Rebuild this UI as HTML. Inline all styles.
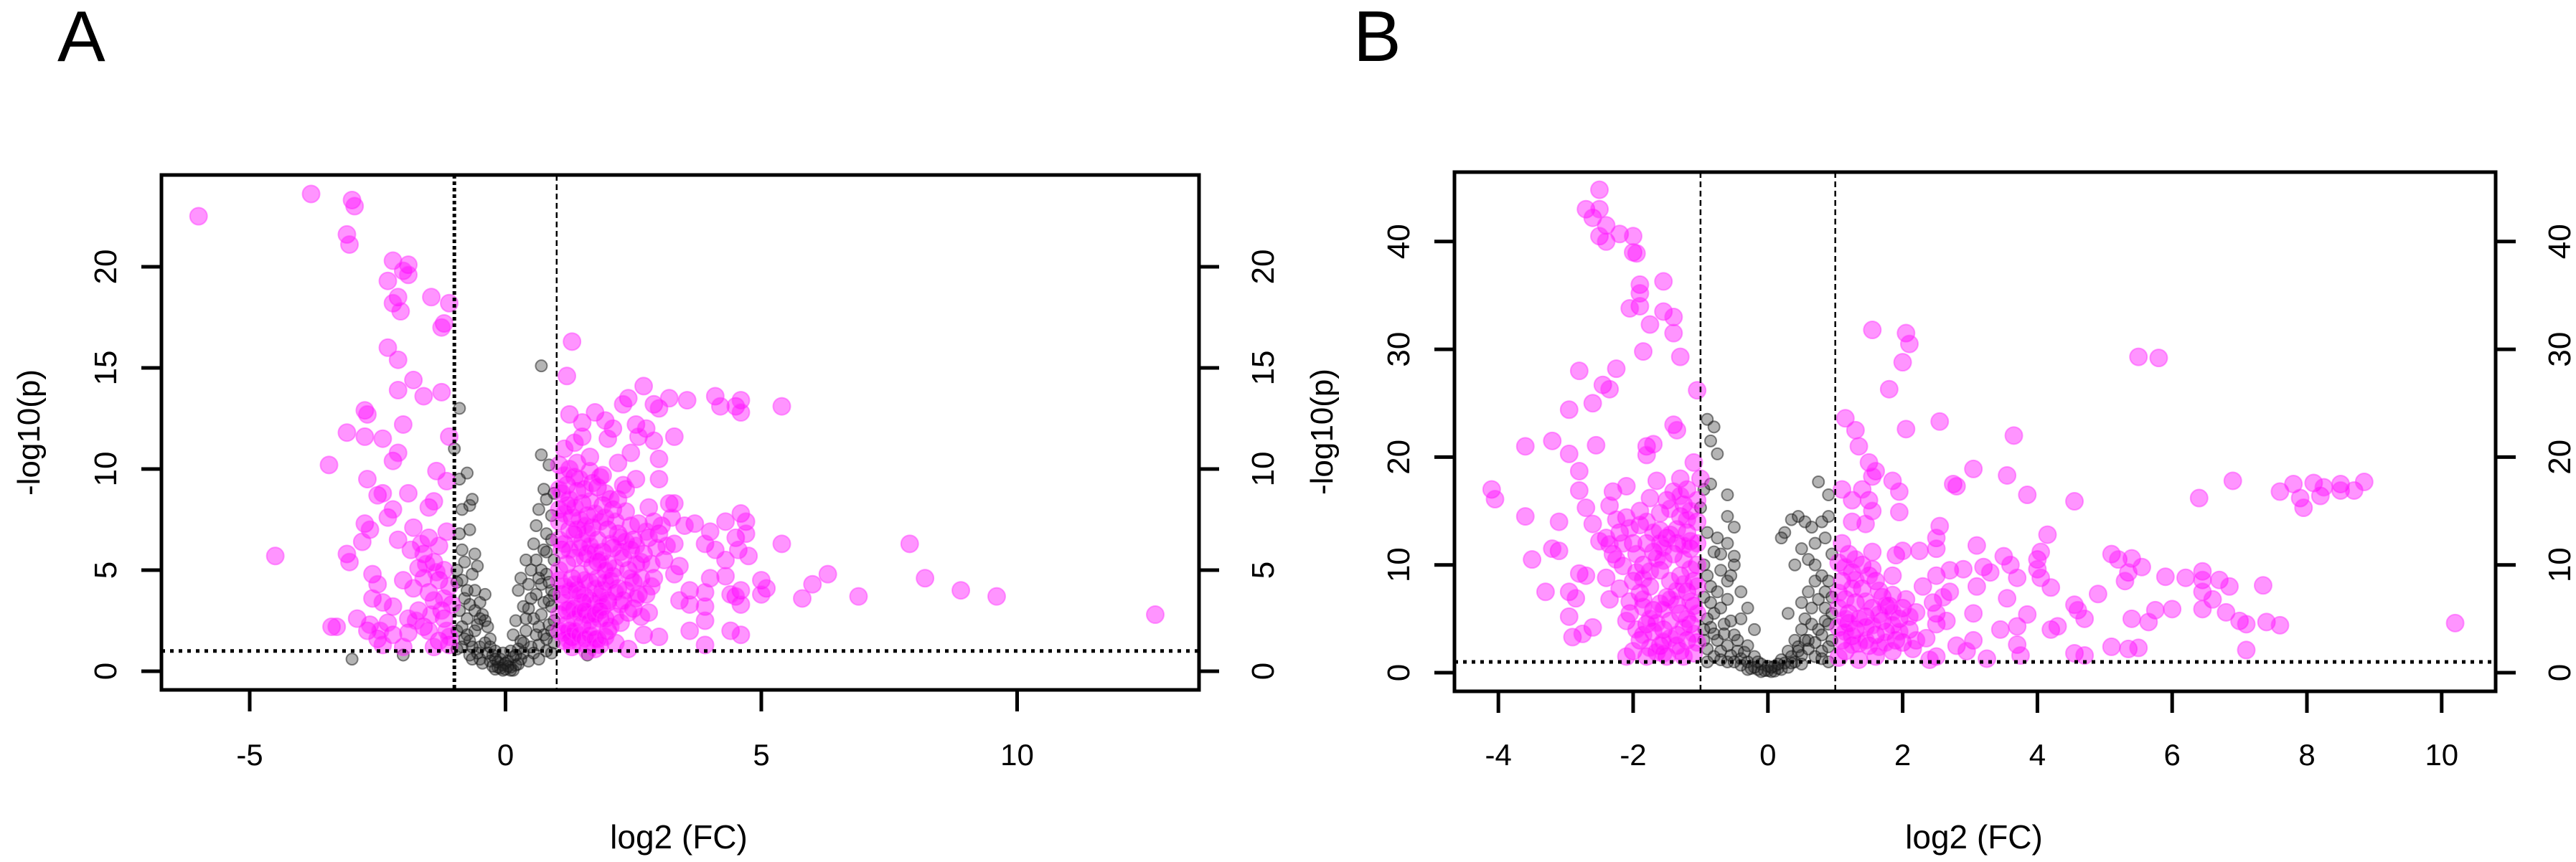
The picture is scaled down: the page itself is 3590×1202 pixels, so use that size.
<!DOCTYPE html>
<html><head><meta charset="utf-8"><style>
html,body{margin:0;padding:0;background:#fff;}
svg{display:block;font-family:"Liberation Sans",sans-serif;}
</style></head><body>
<svg id="fig" width="3590" height="1202" viewBox="0 0 3590 1202">
<text x="80" y="85" font-size="100">A</text>
<text x="1886" y="85" font-size="100">B</text>
<g id="panelA"></g>
<g id="panelB"></g>
</svg>
<script>
// ---------- Panel A data ----------
const aXTicks = [-5, 0, 5, 10];
const aYTicks = [0, 5, 10, 15, 20];
const aSig = [[-6.0,22.5],[-3.8,23.6],[-3.0,23.3],[-2.95,23.0],[-3.1,21.6],[-3.05,21.1],[-2.2,20.3],[-1.9,20.1],[-2.0,19.8],[-1.9,19.6],[-2.3,19.3],[-2.1,18.5],[-2.2,18.2],[-2.05,17.8],[-1.45,18.5],[-1.1,18.2],[-1.2,17.2],[-1.25,17.0],[-2.3,16.0],[-2.1,15.4],[-1.8,14.4],[-2.1,13.9],[-1.6,13.6],[-1.25,13.8],[-2.75,12.9],[-2.7,12.7],[-3.1,11.8],[-2.75,11.6],[-2.4,11.5],[-2.0,12.2],[-1.1,11.6],[-3.45,10.2],[-2.2,10.4],[-2.1,10.8],[-1.35,9.9],[-1.15,9.4],[-2.7,9.5],[-2.5,8.7],[-2.4,8.8],[-1.9,8.8],[-1.5,8.1],[-1.4,8.4],[-2.75,7.3],[-2.65,7.0],[-2.3,7.6],[-2.2,8.0],[-1.8,7.1],[-1.15,6.9],[-4.5,5.7],[-3.1,5.8],[-3.05,5.4],[-2.8,6.4],[-2.1,6.5],[-1.85,6.0],[-1.6,5.8],[-1.4,5.4],[-2.6,4.8],[-2.5,4.3],[-2.0,4.5],[-1.8,4.1],[-1.5,3.9],[-1.3,4.5],[-2.6,3.6],[-2.4,3.4],[-2.2,3.2],[-1.7,3.0],[-1.4,3.5],[-1.2,2.6],[-3.4,2.2],[-3.3,2.2],[-2.9,2.6],[-2.7,2.0],[-2.5,1.6],[-2.2,1.8],[-1.9,1.9],[-1.6,2.2],[-1.3,1.5],[-1.1,1.3],[-2.0,1.2],[-2.4,1.3],[-1.15,2.0],[-1.5,6.6],[-1.7,5.1],[-1.25,3.0],[-1.2,5.0],[-1.1,4.2],[-1.3,6.2],[-1.6,4.6],[-1.9,2.6],[-2.3,2.4],[-1.05,3.3],[-1.45,2.8],[-1.55,5.3],[-1.35,4.9],[-1.65,6.3],[-1.2,3.6],[-1.5,2.0],[-1.75,2.5],[-1.1,1.7],[-1.4,1.2],[-2.65,2.3],[-2.45,2.0],
[1.3,16.3],[1.2,14.6],[2.7,14.1],[2.4,13.5],[2.3,13.2],[2.9,13.2],[3.0,13.0],[3.2,13.5],[3.55,13.4],[4.1,13.6],[4.2,13.1],[4.5,13.1],[4.6,13.4],[4.6,12.8],[5.4,13.1],[1.25,12.7],[1.5,12.3],[1.75,12.8],[1.95,12.4],[2.1,12.0],[2.55,12.2],[2.75,12.0],[1.5,11.6],[1.35,11.3],[2.0,11.5],[2.6,11.6],[3.3,11.6],[2.9,11.4],[1.65,10.6],[1.4,10.3],[2.2,10.3],[2.45,10.8],[3.0,10.5],[1.9,9.7],[2.55,9.5],[3.0,9.5],[1.2,9.2],[1.8,9.1],[2.35,9.0],[2.2,8.5],[3.2,8.3],[3.3,8.3],[2.8,8.1],[4.6,7.8],[4.7,7.4],[3.7,7.3],[3.5,7.2],[4.3,7.4],[2.0,7.0],[2.6,7.3],[2.5,6.5],[4.0,6.9],[4.5,6.6],[4.7,6.8],[5.4,6.3],[3.0,6.8],[3.3,6.3],[3.9,6.3],[4.1,6.0],[4.55,6.0],[4.75,5.7],[3.1,5.5],[3.4,5.2],[4.3,5.5],[1.8,5.4],[7.9,6.3],[8.2,4.6],[6.3,4.8],[6.0,4.3],[5.0,4.5],[5.1,4.1],[4.0,4.6],[4.3,4.7],[3.3,4.8],[2.9,4.6],[3.6,4.0],[4.6,4.0],[4.5,3.7],[3.9,3.9],[5.0,3.8],[5.8,3.6],[6.9,3.7],[8.9,4.0],[9.6,3.7],[12.7,2.8],[3.4,3.5],[3.6,3.3],[3.9,3.2],[4.6,3.3],[4.4,3.8],[2.0,3.5],[2.5,3.1],[2.8,2.9],[3.9,2.5],[4.4,2.0],[3.6,2.0],[4.6,1.8],[2.7,1.8],[3.0,1.7],[2.4,1.1],[3.9,1.3],[2.0,2.0],[1.5,2.3],[1.3,1.7],[1.6,1.0],[1.2,3.0],
[1.1,8.8],[1.2,8.2],[1.3,7.6],[1.4,7.0],[1.5,6.4],[1.6,5.8],[1.7,5.2],[1.8,4.6],[1.9,4.0],[2.0,3.4],[1.1,6.0],[1.2,5.3],[1.3,4.6],[1.4,4.0],[1.5,3.4],[1.6,2.8],[1.7,2.2],[1.8,1.6],[1.1,3.8],[1.2,2.3],[1.3,1.2],[1.4,8.9],[1.5,8.3],[1.6,7.7],[1.7,7.1],[1.8,6.5],[1.9,5.9],[2.0,5.3],[2.1,4.7],[2.2,4.1],[2.3,3.5],[2.4,2.9],[2.1,6.1],[2.2,6.8],[2.3,5.6],[2.4,5.0],[2.5,4.4],[2.6,3.8],[2.7,5.8],[2.8,6.6],[2.9,7.4],[2.1,8.0],[1.9,8.2],[1.7,9.3],[1.55,9.0],[1.35,9.6],[1.05,10.2],[1.15,11.0],[1.25,7.0],[1.35,5.6],[1.45,4.8],[1.55,3.7],[1.65,4.4],[1.75,3.3],[1.85,2.6],[1.95,7.6],[2.05,6.3],[2.15,5.1],[2.25,2.4],[2.35,7.9],[2.45,6.0],[2.55,5.3],[2.65,4.6],[2.75,3.8],[2.85,5.3],[2.95,6.1],[3.05,7.2],[1.15,1.5],[1.25,2.0],[1.45,1.4],[1.75,1.1],[2.15,1.4],[1.05,5.0],[1.05,7.4],[1.35,3.1],[1.6,6.8],[1.9,3.2],[2.3,9.2],
[1.05,8.0],[1.15,7.8],[1.25,8.5],[1.35,8.1],[1.45,7.5],[1.55,7.2],[1.65,8.4],[1.75,7.8],[1.85,7.4],[1.05,6.5],[1.15,6.3],[1.25,6.0],[1.35,6.8],[1.45,6.1],[1.55,5.6],[1.65,6.2],[1.75,5.9],[1.85,5.5],[1.95,5.0],[1.05,4.5],[1.15,4.2],[1.25,4.0],[1.35,4.3],[1.45,3.8],[1.55,4.5],[1.65,3.5],[1.75,4.1],[1.85,3.7],[1.95,4.4],[1.05,2.8],[1.15,3.4],[1.25,3.1],[1.35,2.6],[1.45,2.9],[1.55,3.0],[1.65,2.5],[1.75,2.8],[1.85,3.0],[1.95,2.6],[1.05,2.0],[1.15,1.9],[1.25,1.5],[1.35,2.0],[1.45,1.8],[1.55,1.6],[1.65,1.8],[1.75,1.6],[1.85,1.3],[1.95,1.7],[2.05,2.2],[2.15,2.7],[2.25,3.3],[2.35,4.0],[2.45,4.6],[2.55,3.6],[2.65,2.7],[2.05,4.5],[2.15,3.9],[2.25,5.9],[2.35,6.4],[2.45,7.2],[2.55,6.2],[2.65,5.4],[2.05,8.5],[2.15,7.4],[2.25,6.6],[1.95,8.8],[1.85,9.6],[1.65,9.9],[1.45,9.5],[1.25,10.0],[1.15,9.7],[1.05,9.0],[2.75,6.9],[2.85,4.2],[3.15,6.2],[3.25,7.6]];
const aNs = [[-0.9,9.5],[-0.75,9.8],[-0.7,8.2],[-0.65,8.5],[-0.7,7.0],[-0.9,13.0],[-1.0,11.0],[0.7,15.1],[0.7,10.7],[0.85,10.2],[0.75,9.0],[0.8,8.5],[0.9,7.7],[0.6,7.2],[0.55,6.3],[0.4,5.5],[0.5,5.0],[0.3,4.6],[0.25,4.0],[0.35,3.2],[0.2,2.5],[0.15,1.8],[0.1,1.0],[0.05,0.5],[0,0.1],[-0.05,0.3],[-0.1,0.6],[-0.2,1.0],[-0.3,1.6],[-0.35,2.2],[-0.45,2.8],[-0.5,3.4],[-0.6,4.0],[-0.65,4.8],[-0.8,5.4],[-0.85,6.0],[-0.55,5.2],[-0.4,3.8],[-0.9,3.0],[-0.95,2.0],[-0.85,1.2],[-0.7,0.8],[0.8,1.0],[0.9,0.9],[0.95,2.5],[0.85,3.5],[0.7,4.3],[0.95,5.5],[0.75,6.0],[0.65,2.2],[0.5,1.2],[0.3,0.6],[-0.3,0.5],[-0.5,1.2],[-3.0,0.6],[-2.0,0.8],[1.6,0.8],[0.6,5.5],[0.45,4.3],[0.9,6.5],[0.8,4.8],[0.6,3.8],[0.9,4.0],[0.7,2.8],[0.4,2.0],[0.2,0.3],[-0.15,0.2],[0.1,0.2],[-0.25,0.8],[-0.4,1.4],[-0.6,2.0],[-0.75,2.6],[-0.8,3.6],[-0.95,4.4],[-0.6,3.0],[-0.7,1.5],[-0.5,0.6],[0.35,1.4],[0.55,2.6],[0.95,8.8],[-0.85,8.0],[0.65,8.0],[0.8,5.9],[-0.2,0.1],[0.15,0.05],[0.25,1.1],[-0.05,0.9],
[-0.1,0.15],[0.05,0.25],[-0.15,0.45],[0.15,0.7],[-0.25,0.25],[0.25,0.35],[-0.35,0.9],[0.35,0.9],[-0.45,0.4],[0.45,0.5],[-0.55,0.9],[0.55,0.9],[-0.65,1.2],[0.65,1.3],[-0.75,1.8],[0.75,1.8],[-0.85,2.2],[0.85,2.3],[-0.95,1.1],[0.95,1.4],[-0.4,2.5],[0.45,3.1],[-0.55,2.3],[0.6,1.8],[-0.7,3.3],[0.75,3.4],[-0.85,4.5],[0.85,4.4],[-0.9,6.8],[0.9,3.2],[-0.3,1.2],[0.3,1.5],[-0.2,0.6],[0.2,0.8],[0,0.4],[0.1,0.05],[-0.05,0.05],[0.5,3.6],[0.4,2.6],[0.7,5.0],[0.8,6.8],[0.65,4.6],[-0.75,4.0],[-0.6,5.8],[-0.95,5.0],[-0.5,2.6],[0.9,2.0],[0.95,3.8],[-0.8,1.6],[0.8,1.6],[-0.65,0.6],[0.65,0.6]];

// ---------- Panel B data ----------
const bXTicks = [-4, -2, 0, 2, 4, 6, 8, 10];
const bYTicks = [0, 10, 20, 30, 40];
const bSig = [[-2.5,44.8],[-2.7,43.0],[-2.6,42.2],[-2.5,43.0],[-2.4,41.5],[-2.5,40.5],[-2.4,40.0],[-2.2,40.7],[-2.0,40.5],[-2.0,39.0],[-1.95,38.9],[-1.9,36.0],[-1.9,35.2],[-1.55,36.3],[-1.9,34.0],[-2.05,33.8],[-1.55,33.5],[-1.4,33.0],[-1.75,32.3],[-1.4,31.5],[-1.85,29.8],[-1.3,29.3],[-2.8,28.0],[-2.25,28.2],[-2.45,26.7],[-2.35,26.3],[-2.6,25.0],[-2.95,24.4],[-1.05,26.2],[-1.4,23.0],[-1.35,22.5],[-3.2,21.5],[-3.6,21.0],[-2.55,21.1],[-1.8,21.0],[-1.7,21.2],[-1.8,20.2],[-2.95,20.3],[-1.1,19.5],[-4.1,17.0],[-4.05,16.1],[-2.8,18.7],[-2.8,16.9],[-2.3,16.8],[-2.1,17.3],[-1.65,17.8],[-1.3,18.0],[-1.2,17.0],[-2.7,15.3],[-2.35,15.5],[-1.9,15.0],[-1.6,14.8],[-1.3,14.5],[-3.6,14.5],[-3.1,14.0],[-2.6,13.8],[-2.2,13.0],[-2.4,12.5],[-2.0,12.0],[-1.8,12.0],[-1.5,12.5],[-1.2,13.0],[-3.1,11.3],[-3.2,11.5],[-2.3,11.0],[-1.7,11.2],[-1.4,11.0],[-3.5,10.5],[-2.8,9.2],[-2.4,8.8],[-2.0,8.5],[-1.6,9.5],[-1.3,9.0],[-2.7,9.0],[-3.3,7.5],[-2.95,7.5],[-2.85,6.9],[-2.2,7.8],[-1.9,7.4],[-1.5,7.0],[-1.2,7.5],[-2.35,6.8],[-2.05,5.5],[-1.7,5.8],[-1.3,5.5],[-2.95,5.2],[-2.6,4.2],[-2.1,4.8],[-1.8,4.5],[-1.55,4.0],[-2.9,3.3],[-2.75,3.6],[-1.9,3.0],[-1.6,2.5],[-1.2,3.0],[-2.0,2.0],[-1.8,1.5],[-1.5,1.5],[-2.1,1.5],[-1.3,2.0],[-1.1,1.8],[-1.15,4.5],[-1.1,6.2],[-1.05,10.0],[-1.05,14.0],[-1.5,16.0],[-1.0,18.0],[-1.4,16.8],[-1.75,16.2],[-1.25,15.6],[-1.6,13.2],[-1.9,13.7],[-2.1,14.4],[-1.35,12.0],[-1.15,11.5],[-1.55,10.4],[-1.85,10.0],[-1.25,10.5],[-1.45,8.5],[-1.75,8.0],[-1.1,8.5],[-1.6,6.4],[-1.35,6.3],[-1.85,6.1],[-1.2,5.0],[-1.45,4.8],[-1.7,3.8],[-1.35,3.5],[-1.05,2.8],[-1.6,12.0],[-1.8,14.0],
[-1.15,12.2],[-1.25,11.8],[-1.35,13.3],[-1.45,12.8],[-1.55,11.6],[-1.65,10.6],[-1.75,9.4],[-1.85,8.7],[-1.95,11.0],[-1.15,9.6],[-1.25,8.2],[-1.35,7.6],[-1.45,6.8],[-1.55,5.9],[-1.65,4.6],[-1.75,5.0],[-1.85,6.8],[-1.95,9.3],[-1.15,6.6],[-1.25,4.2],[-1.35,2.5],[-1.45,3.2],[-1.55,2.9],[-1.65,1.9],[-1.75,2.3],[-1.85,3.5],[-1.95,4.0],[-2.05,6.6],[-2.15,9.9],[-2.25,10.5],[-2.05,13.4],[-2.25,14.2],[-1.05,16.0],[-1.15,15.0],[-1.3,16.4],[-1.45,15.2],[-1.2,14.2],[-1.05,12.0],[-1.05,8.0],[-1.05,5.5],[-1.1,3.6],[-1.25,1.5],[-1.55,1.8],[-1.7,13.0],[-2.15,12.0],[-2.35,11.9],[-2.5,12.2],
[1.55,31.8],[2.05,31.5],[2.1,30.5],[2.0,28.8],[5.5,29.3],[5.8,29.2],[1.8,26.3],[1.15,23.6],[1.3,22.5],[2.05,22.6],[2.55,23.3],[3.65,22.0],[1.35,21.0],[1.5,19.5],[1.6,18.7],[1.55,18.2],[1.85,17.8],[3.05,18.9],[3.55,18.3],[2.75,17.5],[2.8,17.3],[6.9,17.8],[7.6,16.8],[7.8,17.5],[7.9,16.2],[7.95,15.3],[8.1,17.6],[8.2,16.4],[8.25,17.2],[8.5,17.5],[8.5,16.9],[8.7,16.9],[8.85,17.7],[6.4,16.2],[3.85,16.5],[4.55,15.9],[1.1,17.0],[1.25,16.0],[1.5,16.0],[1.55,15.0],[1.4,17.0],[1.95,16.8],[1.95,14.9],[1.25,14.0],[1.45,13.8],[2.55,13.6],[2.5,12.5],[4.15,12.8],[2.5,11.5],[3.1,11.8],[1.1,12.0],[1.2,11.0],[1.55,11.2],[1.9,10.9],[2.0,11.3],[2.25,11.3],[3.5,10.8],[3.6,10.0],[4.0,10.5],[4.05,11.2],[5.1,11.0],[5.2,10.5],[5.4,10.6],[5.55,9.8],[5.35,9.3],[5.3,8.5],[1.4,10.0],[2.5,9.0],[2.7,9.5],[2.9,9.6],[3.2,9.8],[3.3,9.3],[3.7,8.8],[4.0,9.6],[4.05,8.8],[4.2,7.9],[3.1,8.0],[2.7,7.5],[2.3,8.0],[1.6,8.5],[1.85,9.0],[5.9,8.9],[6.2,8.8],[6.45,9.4],[6.45,8.6],[6.7,8.6],[6.85,8.0],[7.35,8.1],[6.45,7.5],[6.6,6.8],[4.9,7.3],[2.45,6.5],[2.6,7.0],[3.55,6.9],[1.8,6.2],[2.0,6.0],[2.2,5.6],[2.5,5.5],[3.05,5.5],[4.55,6.3],[4.6,5.8],[5.75,5.8],[6.0,5.9],[6.45,5.9],[6.8,5.6],[7.0,4.8],[7.1,4.5],[7.4,4.7],[7.6,4.4],[10.2,4.6],[5.4,5.0],[5.65,4.7],[4.7,5.0],[2.5,4.5],[2.65,4.8],[3.45,4.0],[3.7,4.3],[4.2,4.0],[4.3,4.3],[3.85,5.4],[2.35,3.2],[1.9,3.0],[2.0,2.8],[2.8,2.5],[3.05,3.0],[3.7,2.6],[2.95,2.0],[5.1,2.4],[5.35,2.2],[5.5,2.3],[7.1,2.1],[2.5,1.5],[2.4,1.2],[3.25,1.3],[4.55,1.8],[4.7,1.6],[3.75,1.6],[1.2,5.5],[1.3,4.0],[1.1,3.0],[1.15,2.0],[1.5,2.5],[1.6,3.5],[1.7,4.8],[1.3,6.5],[1.4,7.8],[1.1,8.5],[1.25,9.3],[1.6,1.5],[1.35,1.2],[1.15,6.8],[1.45,5.2],[1.75,3.8],[1.2,4.6],[1.5,9.0],[1.3,10.5],[1.05,10.2],[1.7,7.0],[1.95,5.0],[2.1,4.0],[2.2,3.0],[1.85,2.0],[1.05,1.4],
[1.05,6.0],[1.15,5.0],[1.25,3.4],[1.35,2.7],[1.45,4.2],[1.55,6.0],[1.65,5.4],[1.75,2.8],[1.85,4.4],[1.05,4.2],[1.15,3.8],[1.25,2.6],[1.35,5.0],[1.45,3.0],[1.55,4.4],[1.65,2.4],[1.75,6.2],[1.85,5.6],[1.05,7.4],[1.25,7.8],[1.45,6.6],[1.65,7.6],[1.85,7.2],[2.05,6.8],[2.1,5.2],[1.95,3.8],[2.15,2.2],[1.3,8.6],[1.55,9.6],[1.15,9.8]];
const bNs = [[-0.9,23.5],[-0.8,22.8],[-0.85,21.5],[-0.75,20.3],[-0.85,17.5],[-0.95,17.0],[-0.6,16.5],[-1.0,15.3],[-0.6,14.5],[-0.5,13.5],[-0.9,13.0],[-0.8,11.2],[-0.5,10.8],[-0.5,10.0],[-0.7,9.5],[-0.6,8.5],[-0.85,8.0],[-0.4,7.5],[-0.6,6.8],[-0.3,6.0],[-0.8,5.5],[-0.4,5.0],[-0.2,4.0],[-0.5,3.5],[-0.3,2.5],[-0.2,1.5],[-0.1,0.8],[0,0.2],[0.1,0.6],[0.2,1.2],[0.3,2.0],[0.4,3.0],[0.5,4.0],[0.3,5.5],[0.5,6.5],[0.6,7.5],[0.7,8.5],[0.8,9.0],[0.4,10.0],[0.5,11.5],[0.7,12.0],[0.65,13.5],[0.8,14.0],[0.9,14.5],[0.35,14.2],[0.45,14.5],[0.55,14.0],[0.75,17.7],[0.9,16.5],[0.25,13.0],[0.2,12.5],[0.85,6.0],[0.9,4.5],[0.6,3.0],[0.8,2.0],[0.9,1.0],[-0.9,1.0],[-0.7,2.0],[-0.6,1.0],[-0.4,0.7],[-0.95,3.0],[-0.85,4.2],[-0.7,6.0],[-0.95,7.0],[-0.65,4.5],[-0.45,2.0],[-0.15,0.3],[0.05,0.1],[0.15,0.4],[0.25,0.9],[0.35,1.5],[0.45,2.4],[0.55,5.0],[0.65,6.0],[0.75,4.0],[0.85,7.5],[0.95,11.0],[0.95,3.0],[0.7,1.5],[0.5,0.8],[-0.3,1.0],[-0.55,1.6],[-0.75,3.0],[-0.9,5.0],[-0.6,12.0],[-0.7,11.0],[-0.95,10.0],[0.6,10.5],[0.85,12.5],[-0.25,0.4],[0.0,0.6],
[-0.1,0.1],[0.1,0.15],[-0.2,0.5],[0.2,0.3],[-0.3,0.3],[0.3,0.5],[-0.4,1.3],[0.4,1.0],[-0.5,1.0],[0.5,1.6],[-0.6,2.5],[0.6,2.2],[-0.7,1.2],[0.7,2.8],[-0.8,3.6],[0.8,3.5],[-0.9,2.2],[0.9,2.4],[-0.95,4.0],[0.95,5.5],[-0.85,6.5],[0.85,4.8],[-0.75,7.5],[0.75,6.8],[-0.65,3.6],[0.65,4.5],[-0.55,4.8],[0.55,3.0],[-0.45,3.0],[0.45,2.0],[-0.35,1.9],[0.35,0.9],[-0.15,1.0],[0.15,0.8],[-0.05,0.2],[0.05,0.5],[-0.8,1.5],[0.8,1.3],[-0.9,9.0],[0.9,8.5],[-0.75,12.5],[0.7,10.0],[-0.55,9.0],[0.95,7.0]];

const NS = 'http://www.w3.org/2000/svg';
function mk(parent, tag, attrs){const e=document.createElementNS(NS,tag);for(const k in attrs)e.setAttribute(k,attrs[k]);parent.appendChild(e);return e;}

function drawPanel(g, cfg, sig, ns, xTicks, yTicks, prefix){
  const sx = v => cfg.x0 + v*cfg.xu;
  const sy = v => cfg.y0 - v*cfg.yu;
  const clip = mk(g,'clipPath',{id:prefix+'clip'});
  mk(clip,'rect',{x:cfg.L,y:cfg.T,width:cfg.R-cfg.L,height:cfg.B-cfg.T});
  const pts = mk(g,'g',{'clip-path':'url(#'+prefix+'clip)'});
  
  
  ns.forEach(p=>{
    const c=mk(pts,'circle',{cx:sx(p[0]),cy:sy(p[1]),r:8,fill:'rgba(40,40,40,0.35)',stroke:'rgba(20,20,20,0.5)','stroke-width':2});
    
    
  });
  sig.forEach(p=>{
    const c=mk(pts,'circle',{cx:sx(p[0]),cy:sy(p[1]),r:12,fill:'rgba(255,0,255,0.42)',stroke:'rgba(255,60,255,0.5)','stroke-width':2});
    
    
  });
  const h=mk(g,'line',{x1:cfg.L,x2:cfg.R,y1:sy(1),y2:sy(1),stroke:'#000','stroke-width':5,'stroke-dasharray':'5 7'});
  
  
  [-1,1].forEach((v,i)=>{
    const w = cfg.boldLeft && i===0 ? 5 : 2.5;
    const l=mk(g,'line',{x1:sx(v),x2:sx(v),y1:cfg.T,y2:cfg.B,stroke:'#000','stroke-width':w,'stroke-dasharray':cfg.boldLeft&&i===0?'5 4':'8 5'});
    
    
  });
  const box=mk(g,'rect',{x:cfg.L,y:cfg.T,width:cfg.R-cfg.L,height:cfg.B-cfg.T,fill:'none',stroke:'#000','stroke-width':5});
  
  
  xTicks.forEach(v=>{
    const t=mk(g,'line',{x1:sx(v),x2:sx(v),y1:cfg.B,y2:cfg.B+30,stroke:'#000','stroke-width':5});
    
    
    const tx=mk(g,'text',{x:sx(v),y:1067,'font-size':42,'text-anchor':'middle'});
    tx.textContent=String(v);
    
    
  });
  yTicks.forEach(v=>{
    [[cfg.L,cfg.L-28,cfg.ly],[cfg.R,cfg.R+28,cfg.ry]].forEach((s,k)=>{
      const t=mk(g,'line',{x1:s[0],x2:s[1],y1:sy(v),y2:sy(v),stroke:'#000','stroke-width':5});
      
      
      const tx=mk(g,'text',{x:0,y:0,'font-size':44,'text-anchor':'middle',transform:'translate('+(s[2]+15)+','+sy(v)+') rotate(-90)'});
      tx.textContent=String(v);
      
      
    });
  });
  const xt=mk(g,'text',{x:cfg.xtx,y:1183,'font-size':46,'text-anchor':'middle'});
  xt.textContent='log2 (FC)';
  
  
  const yt=mk(g,'text',{x:0,y:0,'font-size':44,'text-anchor':'middle',transform:'translate('+(cfg.ytx+15)+','+((cfg.T+cfg.B)/2)+') rotate(-90)'});
  yt.textContent='-log10(p)';
  
  
}

drawPanel(document.getElementById('panelA'),
  {L:225,R:1671,T:244,B:962,x0:704.5,xu:71.3,y0:936,yu:28.2,ly:147,ry:1760,xtx:946,ytx:40,boldLeft:true},
  aSig,aNs,aXTicks,aYTicks,'a-');
drawPanel(document.getElementById('panelB'),
  {L:2027,R:3478,T:240,B:964,x0:2463.8,xu:93.9,y0:938,yu:15.03,ly:1949,ry:3567,xtx:2751,ytx:1842,boldLeft:false},
  bSig,bNs,bXTicks,bYTicks,'b-');
</script>
</body></html>
